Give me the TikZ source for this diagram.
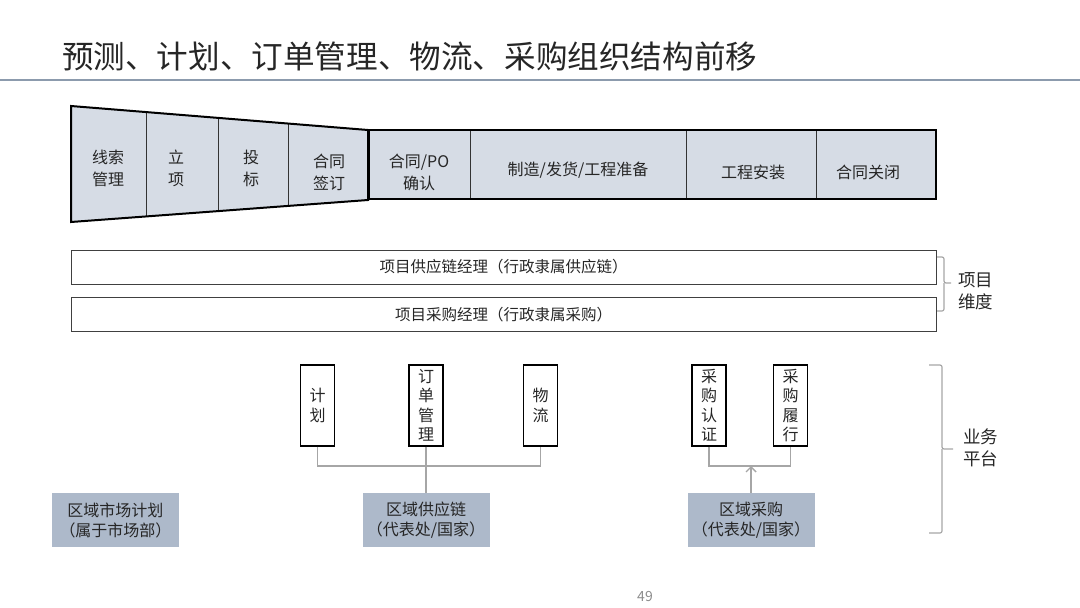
\documentclass[tikz,border=0pt]{standalone}
\usepackage{fontspec}
\setmainfont{Noto Sans CJK SC}
\usetikzlibrary{arrows.meta}
\definecolor{cellfill}{HTML}{D6DCE5}
\definecolor{boxfill}{HTML}{ADB9CA}
\definecolor{rulecol}{HTML}{8C9BAD}
\definecolor{conn}{HTML}{A6A6A6}
\definecolor{txt}{HTML}{262626}
\newcommand\myfs[2]{\fontsize{#1}{#2}\selectfont}
\begin{document}
\begin{tikzpicture}[x=1pt,y=-1pt,
  celltxt/.style={align=center, text=txt, font=\myfs{16}{22}, inner sep=0},
  barbox/.style={draw=black!75, line width=1pt, minimum width=865, minimum height=34, inner sep=0, text=txt, font=\myfs{15.5}{20}},
  vbox/.style={draw=black, line width=1.2pt, minimum width=34, minimum height=81, inner sep=0, align=center, text=txt, font=\myfs{16}{19.5}},
  gbox/.style={fill=boxfill, minimum width=127, minimum height=54, inner sep=0, align=center, text=txt, font=\myfs{16}{20}},
  connline/.style={draw=conn, line width=1.4pt},
  bracel/.style={draw=conn, line width=1.2pt, rounded corners=2pt},
  sidetxt/.style={align=left, text=txt, font=\myfs{17.5}{22}, inner sep=0}
]
\useasboundingbox (0,0) rectangle (1080,608);
% title
\node[anchor=west, inner sep=0, text=txt, font=\myfs{31.6}{31.6}] (title) at (62,56) {预测、计划、订单管理、物流、采购组织结构前移};
\draw[rulecol, line width=2.5pt] (0,80) -- (1080,80);
% funnel
\fill[cellfill] (71,106) -- (368,130) -- (368,200) -- (71,222) -- cycle;
\begin{scope}
  \clip (71,106) -- (368,130) -- (368,200) -- (71,222) -- cycle;
  \draw[black!80, line width=1pt] (146,100) -- (146,230) (218,100) -- (218,230) (288,100) -- (288,230);
\end{scope}
\draw[black, line width=2pt, line join=miter] (71,106) -- (368,130) -- (368,200) -- (71,222) -- cycle;
% rectangle stages
\fill[cellfill] (369,130) rectangle (936,199);
\draw[black!80, line width=1pt] (470,130) -- (470,199) (686,130) -- (686,199) (816,130) -- (816,199);
\draw[black, line width=2.2pt] (369,130) rectangle (936,199);
\node[celltxt] (c1) at (108,168) {线索\\管理};
\node[celltxt] (c2) at (176,168) {立\\项};
\node[celltxt] (c3) at (251,168) {投\\标};
\node[celltxt] (c4) at (329,172) {合同\\签订};
\node[celltxt] (c5) at (419,172) {合同/PO\\确认};
\node[celltxt] (c6) at (578,170) {制造/发货/工程准备};
\node[celltxt] (c7) at (753,172) {工程安装};
\node[celltxt] (c8) at (868,172) {合同关闭};
% bars
\node[barbox] (b1) at (503.5,267) {项目供应链经理（行政隶属供应链）};
\node[barbox] (b2) at (503.5,314.5) {项目采购经理（行政隶属采购）};
% brace 1
\coordinate (t1) at (951,283);
\draw[bracel] (937,257) -| (944,283) -- (t1);
\draw[bracel] (937,311) -| (944,283);
\node[sidetxt, anchor=west] (s1) at (958,291) {项目\\维度};
% brace 2
\coordinate (t2) at (953,449);
\draw[bracel] (929,365) -| (942,449) -- (t2);
\draw[bracel] (929,533) -| (942,449);
\node[sidetxt, anchor=west] (s2) at (963,448) {业务\\平台};
% vertical function boxes
\node[vbox] (plan) at (317.5,405.5) {计\\划};
\node[vbox] (ord) at (426,405.5) {订\\单\\管\\理};
\node[vbox] (logi) at (540.5,405.5) {物\\流};
\node[vbox] (pc) at (709,405.5) {采\\购\\认\\证};
\node[vbox] (pf) at (790.5,405.5) {采\\购\\履\\行};
% bottom boxes
\node[gbox] (mkt) at (115.5,520) {区域市场计划\\（属于市场部）};
\node[gbox] (sup) at (426,520) {区域供应链\\（代表处/国家）};
\node[gbox] (pur) at (751,520) {区域采购\\（代表处/国家）};
% connectors
\coordinate (sj) at (426,466);
\draw[connline] (plan.south) |- (sj) -| (logi.south);
\draw[connline] (ord.south) -- (sup.north);
\coordinate (pj) at (751,466);
\draw[connline] (pc.south) |- (pj) -| (pf.south);
\draw[connline, -{Straight Barb[length=5pt,width=10pt]}] (pur.north) -- (pj);
% page number
\node[text=black!45, font=\myfs{14}{14}, inner sep=0] (pg) at (645,597) {49};
\end{tikzpicture}
\end{document}
